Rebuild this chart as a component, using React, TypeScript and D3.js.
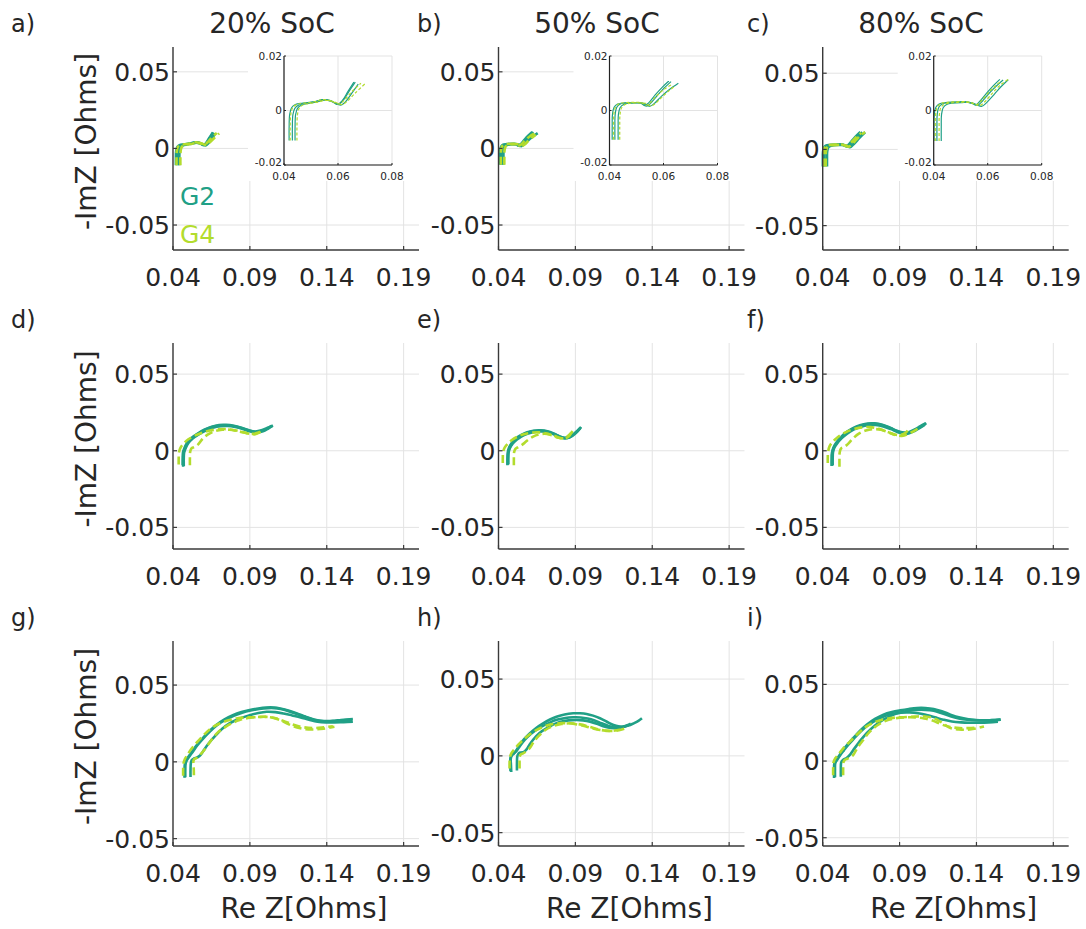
import React from 'react';
import * as d3 from 'd3';

type Pt = [number, number];

// ---------- DATA ----------
const groupNames = ['G2', 'G4'];
const socTitles = ['20% SoC', '50% SoC', '80% SoC'];
const panelLetters = ['a)', 'b)', 'c)', 'd)', 'e)', 'f)', 'g)', 'h)', 'i)'];
const xTicks = [0.04, 0.09, 0.14, 0.19];
const xTickLabels = ['0.04', '0.09', '0.14', '0.19'];
const yTicks = [-0.05, 0, 0.05];
const yTickLabels = ['-0.05', '0', '0.05'];
const insetXTicks = [0.04, 0.06, 0.08];
const insetXTickLabels = ['0.04', '0.06', '0.08'];
const insetYTicks = [-0.02, 0, 0.02];
const insetYTickLabels = ['-0.02', '0', '0.02'];
const xDomain: Pt = [0.04, 0.2];
const insetXDomain: Pt = [0.04, 0.08];
const insetYDomain: Pt = [-0.02, 0.02];
const yDomains: Pt[] = [
  [-0.0663, 0.0662], [-0.0663, 0.0662], [-0.066, 0.0672],
  [-0.0641, 0.0703], [-0.0641, 0.0703], [-0.0641, 0.0703],
  [-0.0548, 0.0787], [-0.0587, 0.0748], [-0.0554, 0.0783],
];

// Panel a (20% SoC, row 1)
const aG2: Pt[][] = [
  [[0.0419,-0.0110],[0.0419,-0.0060],[0.0421,-0.0015],[0.0428,0.0010],[0.0442,0.0022],[0.0470,0.0027],[0.0510,0.0032],[0.0545,0.0040],[0.0572,0.0036],[0.0598,0.0022],[0.0615,0.0035],[0.0637,0.0070],[0.0659,0.0104]],
  [[0.0431,-0.0110],[0.0431,-0.0060],[0.0433,-0.0015],[0.0440,0.0008],[0.0455,0.0020],[0.0480,0.0026],[0.0515,0.0032],[0.0548,0.0040],[0.0575,0.0035],[0.0602,0.0022],[0.0620,0.0038],[0.0642,0.0072],[0.0664,0.0104]],
  [[0.0441,-0.0110],[0.0441,-0.0060],[0.0443,-0.0015],[0.0450,0.0008],[0.0465,0.0020],[0.0490,0.0026],[0.0520,0.0031],[0.0550,0.0038],[0.0580,0.0032],[0.0610,0.0020],[0.0628,0.0032],[0.0650,0.0062],[0.0675,0.0097]],
];
const aG4: Pt[][] = [
  [[0.0423,-0.0110],[0.0423,-0.0060],[0.0425,-0.0015],[0.0432,0.0010],[0.0447,0.0022],[0.0475,0.0027],[0.0512,0.0032],[0.0546,0.0040],[0.0574,0.0035],[0.0603,0.0024],[0.0625,0.0040],[0.0652,0.0070],[0.0685,0.0100]],
  [[0.0448,-0.0110],[0.0448,-0.0060],[0.0450,-0.0015],[0.0456,0.0008],[0.0470,0.0020],[0.0495,0.0026],[0.0525,0.0031],[0.0553,0.0037],[0.0583,0.0033],[0.0615,0.0022],[0.0635,0.0035],[0.0665,0.0065],[0.0700,0.0098]],
];
// Panel b (50% SoC, row 1)
const bG2: Pt[][] = [
  [[0.0410,-0.0107],[0.0410,-0.0060],[0.0411,-0.0015],[0.0417,0.0012],[0.0430,0.0024],[0.0455,0.0028],[0.0490,0.0029],[0.0515,0.0028],[0.0530,0.0018],[0.0545,0.0028],[0.0570,0.0058],[0.0595,0.0085],[0.0620,0.0108]],
  [[0.0420,-0.0107],[0.0420,-0.0060],[0.0421,-0.0015],[0.0427,0.0012],[0.0440,0.0024],[0.0465,0.0028],[0.0495,0.0029],[0.0520,0.0027],[0.0537,0.0016],[0.0552,0.0026],[0.0577,0.0055],[0.0602,0.0082],[0.0628,0.0106]],
  [[0.0432,-0.0107],[0.0432,-0.0060],[0.0433,-0.0015],[0.0439,0.0010],[0.0452,0.0022],[0.0475,0.0027],[0.0505,0.0028],[0.0530,0.0025],[0.0548,0.0015],[0.0565,0.0025],[0.0592,0.0052],[0.0622,0.0077],[0.0655,0.0100]],
];
const bG4: Pt[][] = [
  [[0.0415,-0.0107],[0.0415,-0.0060],[0.0416,-0.0015],[0.0422,0.0012],[0.0435,0.0025],[0.0460,0.0029],[0.0492,0.0030],[0.0518,0.0029],[0.0535,0.0019],[0.0550,0.0028],[0.0575,0.0055],[0.0603,0.0078],[0.0632,0.0096]],
  [[0.0438,-0.0107],[0.0438,-0.0060],[0.0439,-0.0015],[0.0445,0.0010],[0.0458,0.0022],[0.0480,0.0027],[0.0508,0.0028],[0.0535,0.0026],[0.0553,0.0017],[0.0570,0.0026],[0.0595,0.0050],[0.0620,0.0072],[0.0642,0.0090]],
];
// Panel c (80% SoC, row 1)
const cG2: Pt[][] = [
  [[0.0401,-0.0112],[0.0401,-0.0060],[0.0402,-0.0015],[0.0408,0.0012],[0.0420,0.0024],[0.0445,0.0029],[0.0480,0.0031],[0.0520,0.0032],[0.0540,0.0027],[0.0555,0.0020],[0.0572,0.0035],[0.0600,0.0068],[0.0622,0.0092],[0.0645,0.0114]],
  [[0.0412,-0.0112],[0.0412,-0.0060],[0.0413,-0.0015],[0.0419,0.0012],[0.0432,0.0024],[0.0455,0.0029],[0.0490,0.0031],[0.0525,0.0031],[0.0546,0.0026],[0.0562,0.0019],[0.0580,0.0034],[0.0608,0.0066],[0.0632,0.0090],[0.0657,0.0112]],
  [[0.0428,-0.0112],[0.0428,-0.0060],[0.0429,-0.0015],[0.0435,0.0010],[0.0448,0.0022],[0.0470,0.0027],[0.0505,0.0029],[0.0535,0.0029],[0.0558,0.0022],[0.0577,0.0015],[0.0597,0.0030],[0.0625,0.0060],[0.0650,0.0088],[0.0676,0.0113]],
];
const cG4: Pt[][] = [
  [[0.0406,-0.0112],[0.0406,-0.0060],[0.0407,-0.0015],[0.0413,0.0012],[0.0426,0.0025],[0.0450,0.0030],[0.0485,0.0032],[0.0522,0.0032],[0.0543,0.0027],[0.0559,0.0021],[0.0577,0.0036],[0.0605,0.0068],[0.0628,0.0090],[0.0650,0.0108]],
  [[0.0420,-0.0112],[0.0420,-0.0060],[0.0421,-0.0015],[0.0427,0.0011],[0.0440,0.0023],[0.0463,0.0028],[0.0497,0.0030],[0.0530,0.0030],[0.0552,0.0024],[0.0570,0.0018],[0.0590,0.0033],[0.0618,0.0064],[0.0645,0.0092],[0.0676,0.0114]],
];
// Panel d (20% SoC, row 2)
const dG2: Pt[][] = [
  [[0.0466,-0.0105],[0.0466,-0.0060],[0.0468,-0.0020],[0.0475,0.0008],[0.0495,0.0050],[0.0525,0.0082],[0.0560,0.0108],[0.0605,0.0135],[0.0655,0.0155],[0.0705,0.0165],[0.0750,0.0166],[0.0800,0.0160],[0.0850,0.0147],[0.0900,0.0130],[0.0940,0.0122],[0.0980,0.0130],[0.1020,0.0148],[0.1050,0.0165]],
  [[0.0470,-0.0100],[0.0470,-0.0055],[0.0472,-0.0015],[0.0480,0.0012],[0.0500,0.0050],[0.0530,0.0082],[0.0565,0.0105],[0.0610,0.0130],[0.0660,0.0150],[0.0710,0.0160],[0.0755,0.0162],[0.0805,0.0155],[0.0855,0.0142],[0.0905,0.0125],[0.0945,0.0118],[0.0985,0.0127],[0.1020,0.0145],[0.1045,0.0160]],
  [[0.0463,-0.0095],[0.0463,-0.0050],[0.0465,-0.0012],[0.0472,0.0012],[0.0492,0.0052],[0.0522,0.0085],[0.0558,0.0110],[0.0603,0.0137],[0.0652,0.0157],[0.0700,0.0168],[0.0745,0.0169],[0.0795,0.0163],[0.0845,0.0150],[0.0895,0.0133],[0.0935,0.0126],[0.0975,0.0133],[0.1015,0.0150],[0.1040,0.0163]],
];
const dG4: Pt[][] = [
  [[0.0437,-0.0090],[0.0437,-0.0050],[0.0439,-0.0010],[0.0450,0.0022],[0.0470,0.0048],[0.0500,0.0075],[0.0540,0.0098],[0.0590,0.0118],[0.0640,0.0132],[0.0700,0.0140],[0.0750,0.0141],[0.0800,0.0134],[0.0850,0.0123],[0.0900,0.0110],[0.0935,0.0108],[0.0965,0.0122],[0.0990,0.0142]],
  [[0.0510,-0.0095],[0.0510,-0.0050],[0.0512,-0.0005],[0.0520,0.0015],[0.0540,0.0025],[0.0562,0.0040],[0.0590,0.0075],[0.0625,0.0105],[0.0670,0.0127],[0.0720,0.0137],[0.0770,0.0137],[0.0820,0.0128],[0.0870,0.0117],[0.0915,0.0110],[0.0950,0.0117],[0.0985,0.0135]],
];
// Panel e (50% SoC, row 2)
const eG2: Pt[][] = [
  [[0.0461,-0.0091],[0.0461,-0.0050],[0.0463,-0.0012],[0.0470,0.0015],[0.0490,0.0050],[0.0515,0.0075],[0.0545,0.0097],[0.0585,0.0116],[0.0630,0.0128],[0.0678,0.0130],[0.0720,0.0124],[0.0760,0.0110],[0.0800,0.0092],[0.0830,0.0083],[0.0862,0.0088],[0.0900,0.0115],[0.0938,0.0155]],
  [[0.0464,-0.0088],[0.0464,-0.0048],[0.0466,-0.0010],[0.0473,0.0014],[0.0493,0.0048],[0.0518,0.0072],[0.0548,0.0093],[0.0588,0.0111],[0.0633,0.0123],[0.0680,0.0126],[0.0722,0.0120],[0.0762,0.0106],[0.0802,0.0089],[0.0832,0.0081],[0.0864,0.0087],[0.0900,0.0112],[0.0932,0.0148]],
  [[0.0458,-0.0094],[0.0458,-0.0052],[0.0460,-0.0014],[0.0467,0.0016],[0.0487,0.0052],[0.0512,0.0078],[0.0542,0.0100],[0.0582,0.0119],[0.0627,0.0131],[0.0675,0.0133],[0.0718,0.0127],[0.0758,0.0113],[0.0798,0.0094],[0.0828,0.0085],[0.0860,0.0090],[0.0898,0.0117],[0.0935,0.0152]],
];
const eG4: Pt[][] = [
  [[0.0428,-0.0080],[0.0428,-0.0045],[0.0430,-0.0008],[0.0440,0.0020],[0.0460,0.0045],[0.0485,0.0068],[0.0520,0.0090],[0.0565,0.0108],[0.0615,0.0118],[0.0665,0.0120],[0.0710,0.0113],[0.0750,0.0100],[0.0790,0.0085],[0.0825,0.0082],[0.0855,0.0100],[0.0880,0.0125],[0.0895,0.0145]],
  [[0.0500,-0.0095],[0.0500,-0.0050],[0.0502,-0.0008],[0.0510,0.0012],[0.0530,0.0025],[0.0555,0.0040],[0.0585,0.0065],[0.0625,0.0092],[0.0670,0.0108],[0.0715,0.0110],[0.0755,0.0100],[0.0795,0.0085],[0.0830,0.0080],[0.0858,0.0095],[0.0875,0.0120]],
];
// Panel f (80% SoC, row 2)
const fG2: Pt[][] = [
  [[0.0461,-0.0098],[0.0461,-0.0055],[0.0463,-0.0012],[0.0472,0.0020],[0.0490,0.0050],[0.0520,0.0085],[0.0555,0.0117],[0.0600,0.0145],[0.0645,0.0164],[0.0695,0.0175],[0.0740,0.0176],[0.0790,0.0167],[0.0840,0.0148],[0.0885,0.0127],[0.0920,0.0117],[0.0955,0.0116],[0.1000,0.0135],[0.1040,0.0158],[0.1074,0.0180]],
  [[0.0465,-0.0095],[0.0465,-0.0052],[0.0467,-0.0010],[0.0476,0.0020],[0.0494,0.0048],[0.0524,0.0082],[0.0559,0.0112],[0.0604,0.0139],[0.0649,0.0157],[0.0699,0.0167],[0.0744,0.0168],[0.0794,0.0159],[0.0844,0.0141],[0.0889,0.0121],[0.0924,0.0112],[0.0959,0.0113],[0.1000,0.0130],[0.1035,0.0150],[0.1065,0.0170]],
  [[0.0458,-0.0100],[0.0458,-0.0058],[0.0460,-0.0015],[0.0469,0.0018],[0.0487,0.0050],[0.0517,0.0087],[0.0552,0.0120],[0.0597,0.0148],[0.0642,0.0167],[0.0692,0.0178],[0.0737,0.0179],[0.0787,0.0170],[0.0837,0.0151],[0.0882,0.0130],[0.0917,0.0120],[0.0952,0.0119],[0.0995,0.0137],[0.1035,0.0160],[0.1068,0.0178]],
];
const fG4: Pt[][] = [
  [[0.0433,-0.0080],[0.0433,-0.0045],[0.0435,-0.0008],[0.0445,0.0030],[0.0465,0.0058],[0.0490,0.0082],[0.0525,0.0108],[0.0565,0.0128],[0.0610,0.0144],[0.0660,0.0153],[0.0710,0.0154],[0.0760,0.0145],[0.0810,0.0127],[0.0860,0.0108],[0.0900,0.0102],[0.0935,0.0115],[0.0960,0.0140]],
  [[0.0509,-0.0105],[0.0509,-0.0055],[0.0511,-0.0008],[0.0520,0.0015],[0.0540,0.0025],[0.0565,0.0045],[0.0595,0.0078],[0.0635,0.0112],[0.0680,0.0132],[0.0730,0.0141],[0.0780,0.0137],[0.0830,0.0120],[0.0875,0.0102],[0.0915,0.0097],[0.0955,0.0108],[0.0995,0.0130],[0.1030,0.0150]],
];
// Panel g (20% SoC, row 3)
const gG2: Pt[][] = [
  [[0.0475,-0.0104],[0.0475,-0.0060],[0.0477,-0.0015],[0.0486,0.0011],[0.0505,0.0040],[0.0525,0.0068],[0.0555,0.0110],[0.0591,0.0152],[0.0635,0.0198],[0.0679,0.0239],[0.0735,0.0277],[0.0789,0.0304],[0.0845,0.0324],[0.0899,0.0337],[0.0955,0.0348],[0.1009,0.0354],[0.1055,0.0354],[0.1097,0.0348],[0.1150,0.0334],[0.1207,0.0315],[0.1260,0.0295],[0.1317,0.0276],[0.1360,0.0267],[0.1405,0.0265],[0.1450,0.0268],[0.1493,0.0272],[0.1570,0.0278]],
  [[0.0480,-0.0100],[0.0480,-0.0055],[0.0482,-0.0012],[0.0491,0.0012],[0.0510,0.0040],[0.0530,0.0068],[0.0560,0.0110],[0.0596,0.0152],[0.0640,0.0197],[0.0684,0.0237],[0.0740,0.0273],[0.0795,0.0300],[0.0850,0.0320],[0.0905,0.0334],[0.0960,0.0344],[0.1015,0.0350],[0.1060,0.0350],[0.1100,0.0344],[0.1152,0.0330],[0.1210,0.0310],[0.1265,0.0290],[0.1320,0.0273],[0.1365,0.0265],[0.1410,0.0263],[0.1460,0.0266],[0.1510,0.0270],[0.1565,0.0274]],
  [[0.0514,-0.0098],[0.0514,-0.0055],[0.0516,-0.0010],[0.0522,0.0012],[0.0536,0.0022],[0.0560,0.0030],[0.0580,0.0045],[0.0600,0.0075],[0.0630,0.0118],[0.0679,0.0174],[0.0720,0.0215],[0.0767,0.0250],[0.0830,0.0281],[0.0899,0.0304],[0.0955,0.0318],[0.1009,0.0326],[0.1065,0.0324],[0.1119,0.0315],[0.1175,0.0302],[0.1230,0.0289],[0.1285,0.0274],[0.1340,0.0261],[0.1395,0.0256],[0.1450,0.0257],[0.1510,0.0259],[0.1570,0.0261]],
];
const gG4: Pt[][] = [
  [[0.0466,-0.0090],[0.0466,-0.0050],[0.0468,-0.0010],[0.0478,0.0020],[0.0492,0.0043],[0.0520,0.0085],[0.0558,0.0130],[0.0600,0.0175],[0.0646,0.0217],[0.0700,0.0248],[0.0767,0.0272],[0.0820,0.0284],[0.0877,0.0289],[0.0940,0.0291],[0.1009,0.0293],[0.1055,0.0286],[0.1097,0.0272],[0.1150,0.0246],[0.1207,0.0224],[0.1260,0.0213],[0.1317,0.0211],[0.1380,0.0216],[0.1450,0.0228]],
  [[0.0536,-0.0087],[0.0535,-0.0045],[0.0533,0.0005],[0.0540,0.0020],[0.0558,0.0028],[0.0580,0.0050],[0.0602,0.0076],[0.0630,0.0115],[0.0657,0.0152],[0.0690,0.0190],[0.0723,0.0215],[0.0780,0.0250],[0.0833,0.0272],[0.0900,0.0287],[0.0965,0.0293],[0.1020,0.0292],[0.1075,0.0283],[0.1130,0.0262],[0.1190,0.0240],[0.1250,0.0225],[0.1310,0.0220],[0.1380,0.0225],[0.1440,0.0232]],
];
// Panel h (50% SoC, row 3)
const hG2: Pt[][] = [
  [[0.0483,-0.0105],[0.0481,-0.0060],[0.0480,-0.0017],[0.0488,0.0005],[0.0500,0.0015],[0.0515,0.0035],[0.0537,0.0070],[0.0568,0.0110],[0.0603,0.0146],[0.0645,0.0182],[0.0690,0.0212],[0.0735,0.0237],[0.0777,0.0255],[0.0830,0.0270],[0.0886,0.0277],[0.0930,0.0277],[0.0973,0.0273],[0.1015,0.0262],[0.1060,0.0245],[0.1105,0.0222],[0.1148,0.0201],[0.1180,0.0192],[0.1213,0.0190],[0.1245,0.0197],[0.1279,0.0212],[0.1310,0.0228],[0.1333,0.0245]],
  [[0.0478,-0.0100],[0.0477,-0.0055],[0.0478,-0.0012],[0.0486,0.0005],[0.0498,0.0015],[0.0515,0.0030],[0.0540,0.0065],[0.0572,0.0105],[0.0608,0.0140],[0.0650,0.0172],[0.0695,0.0198],[0.0740,0.0220],[0.0785,0.0236],[0.0835,0.0247],[0.0886,0.0251],[0.0935,0.0250],[0.0980,0.0243],[0.1025,0.0230],[0.1070,0.0212],[0.1115,0.0195],[0.1155,0.0186],[0.1190,0.0186],[0.1225,0.0195],[0.1260,0.0210]],
  [[0.0520,-0.0095],[0.0520,-0.0050],[0.0522,-0.0005],[0.0530,0.0015],[0.0545,0.0022],[0.0565,0.0026],[0.0581,0.0040],[0.0600,0.0070],[0.0625,0.0105],[0.0665,0.0148],[0.0712,0.0179],[0.0755,0.0203],[0.0799,0.0220],[0.0855,0.0231],[0.0908,0.0234],[0.0950,0.0231],[0.0995,0.0223],[0.1045,0.0207],[0.1093,0.0190],[0.1130,0.0182],[0.1170,0.0179],[0.1210,0.0188],[0.1246,0.0201]],
];
const hG4: Pt[][] = [
  [[0.0472,-0.0083],[0.0472,-0.0045],[0.0474,-0.0010],[0.0485,0.0020],[0.0505,0.0045],[0.0537,0.0081],[0.0590,0.0130],[0.0646,0.0168],[0.0700,0.0192],[0.0755,0.0207],[0.0810,0.0213],[0.0864,0.0212],[0.0920,0.0203],[0.0973,0.0190],[0.1015,0.0178],[0.1060,0.0168],[0.1105,0.0163],[0.1148,0.0162],[0.1190,0.0168],[0.1224,0.0179]],
  [[0.0537,-0.0083],[0.0537,-0.0045],[0.0538,-0.0005],[0.0548,0.0012],[0.0560,0.0016],[0.0580,0.0030],[0.0603,0.0050],[0.0625,0.0085],[0.0660,0.0128],[0.0700,0.0165],[0.0750,0.0192],[0.0810,0.0207],[0.0870,0.0212],[0.0930,0.0205],[0.0990,0.0190],[0.1040,0.0175],[0.1090,0.0165],[0.1140,0.0163],[0.1190,0.0170]],
];
// Panel i (80% SoC, row 3)
const iG2: Pt[][] = [
  [[0.0474,-0.0110],[0.0474,-0.0060],[0.0476,-0.0015],[0.0489,0.0007],[0.0510,0.0040],[0.0533,0.0072],[0.0565,0.0112],[0.0598,0.0149],[0.0640,0.0195],[0.0686,0.0237],[0.0740,0.0275],[0.0795,0.0303],[0.0850,0.0320],[0.0904,0.0331],[0.0960,0.0340],[0.1013,0.0346],[0.1068,0.0346],[0.1122,0.0340],[0.1175,0.0325],[0.1231,0.0303],[0.1285,0.0285],[0.1340,0.0274],[0.1395,0.0267],[0.1449,0.0265],[0.1500,0.0267],[0.1554,0.0270]],
  [[0.0480,-0.0105],[0.0480,-0.0058],[0.0482,-0.0013],[0.0494,0.0008],[0.0515,0.0040],[0.0538,0.0070],[0.0570,0.0110],[0.0603,0.0146],[0.0645,0.0190],[0.0690,0.0230],[0.0745,0.0266],[0.0800,0.0292],[0.0855,0.0308],[0.0910,0.0316],[0.0965,0.0317],[0.1020,0.0312],[0.1075,0.0300],[0.1130,0.0285],[0.1185,0.0270],[0.1240,0.0258],[0.1300,0.0252],[0.1360,0.0250],[0.1420,0.0250],[0.1480,0.0252],[0.1540,0.0256]],
  [[0.0518,-0.0103],[0.0518,-0.0055],[0.0520,-0.0010],[0.0529,0.0005],[0.0540,0.0013],[0.0555,0.0020],[0.0575,0.0038],[0.0599,0.0072],[0.0640,0.0127],[0.0686,0.0182],[0.0740,0.0232],[0.0795,0.0270],[0.0850,0.0298],[0.0904,0.0316],[0.0960,0.0328],[0.1013,0.0334],[0.1068,0.0334],[0.1122,0.0328],[0.1175,0.0312],[0.1231,0.0292],[0.1285,0.0278],[0.1340,0.0270],[0.1400,0.0266],[0.1460,0.0266],[0.1520,0.0268],[0.1559,0.0270]],
];
const iG4: Pt[][] = [
  [[0.0468,-0.0092],[0.0468,-0.0050],[0.0470,-0.0010],[0.0482,0.0018],[0.0500,0.0039],[0.0535,0.0085],[0.0577,0.0127],[0.0630,0.0180],[0.0686,0.0226],[0.0750,0.0258],[0.0817,0.0276],[0.0880,0.0284],[0.0948,0.0287],[0.1000,0.0290],[0.1057,0.0292],[0.1100,0.0285],[0.1144,0.0270],[0.1190,0.0240],[0.1231,0.0215],[0.1285,0.0206],[0.1340,0.0204],[0.1395,0.0212],[0.1449,0.0226]],
  [[0.0533,-0.0092],[0.0533,-0.0050],[0.0535,-0.0008],[0.0545,0.0008],[0.0560,0.0015],[0.0580,0.0025],[0.0599,0.0040],[0.0625,0.0085],[0.0664,0.0138],[0.0705,0.0190],[0.0751,0.0230],[0.0810,0.0262],[0.0870,0.0278],[0.0935,0.0285],[0.1000,0.0285],[0.1060,0.0278],[0.1120,0.0262],[0.1175,0.0238],[0.1230,0.0222],[0.1290,0.0215],[0.1350,0.0215],[0.1410,0.0220]],
];

const panelG2 = [aG2, bG2, cG2, dG2, eG2, fG2, gG2, hG2, iG2];
const panelG4 = [aG4, bG4, cG4, dG4, eG4, fG4, gG4, hG4, iG4];

// ---------- STYLE / LAYOUT ----------
const W = 1086, H = 929;
const FONT = 'DejaVu Sans, Verdana, sans-serif';
const G2_COLOR = '#20a086';
const G4_COLOR = '#b3dc2d';
const TEXT = '#262626';
const GRID = '#e3e3e3';
const AXIS = '#3a3a3a';
const colLeft = [173, 498.5, 822.7];
const plotW = 246;
const rowTop = [47, 343, 641];
const rowBottom = [250, 549, 846];

function Panel({ idx }: { idx: number }) {
  const r = Math.floor(idx / 3), c = idx % 3;
  const x0 = colLeft[c], x1 = x0 + plotW;
  const y0 = rowTop[r], y1 = rowBottom[r];
  const xs = d3.scaleLinear().domain(xDomain).range([x0, x1]);
  const ys = d3.scaleLinear().domain(yDomains[idx]).range([y1, y0]);
  const line = d3.line<Pt>().x(d => xs(d[0])).y(d => ys(d[1])).curve(d3.curveCatmullRom.alpha(0.5));

  const showInset = r === 0;
  const ix0 = x0 + 111, iy0 = 56, iw = 108, ih = 109;
  const ixs = d3.scaleLinear().domain(insetXDomain).range([ix0, ix0 + iw]);
  const iys = d3.scaleLinear().domain(insetYDomain).range([iy0 + ih, iy0]);
  const iline = d3.line<Pt>().x(d => ixs(d[0])).y(d => iys(d[1])).curve(d3.curveCatmullRom.alpha(0.5));
  const clipId = `inset-clip-${idx}`;

  return (
    <g>
      {/* grid */}
      {xTicks.map(t => (
        <line key={'gx' + t} x1={xs(t)} x2={xs(t)} y1={y0} y2={y1} stroke={GRID} strokeWidth={1} />
      ))}
      {yTicks.map(t => (
        <line key={'gy' + t} x1={x0} x2={x1} y1={ys(t)} y2={ys(t)} stroke={GRID} strokeWidth={1} />
      ))}
      {/* curves */}
      {panelG2[idx].map((pts, k) => (
        <path key={'g2' + k} d={line(pts) || ''} fill="none" stroke={G2_COLOR} strokeWidth={2.6} strokeLinejoin="round" />
      ))}
      {panelG4[idx].map((pts, k) => (
        <path key={'g4' + k} d={line(pts) || ''} fill="none" stroke={G4_COLOR} strokeWidth={2.6} strokeDasharray="8,4" />
      ))}
      {/* axes */}
      <line x1={x0} x2={x0} y1={y0} y2={y1} stroke={AXIS} strokeWidth={1.4} />
      <line x1={x0} x2={x1} y1={y1} y2={y1} stroke={AXIS} strokeWidth={1.4} />
      {xTicks.map((t, k) => (
        <g key={'tx' + t}>
          <line x1={xs(t)} x2={xs(t)} y1={y1} y2={y1 - 4} stroke={AXIS} strokeWidth={1.2} />
          <text x={xs(t)} y={y1 + 36} textAnchor="middle" fontSize={25} fill={TEXT} fontFamily={FONT}>{xTickLabels[k]}</text>
        </g>
      ))}
      {yTicks.map((t, k) => (
        <g key={'ty' + t}>
          <line x1={x0} x2={x0 + 4} y1={ys(t)} y2={ys(t)} stroke={AXIS} strokeWidth={1.2} />
          <text x={x0 - 3} y={ys(t)} dy="0.36em" textAnchor="end" fontSize={25} fill={TEXT} fontFamily={FONT}>{yTickLabels[k]}</text>
        </g>
      ))}
      {/* inset */}
      {showInset && (
        <g>
          <rect x={ix0 - 36} y={y0} width={x1 + 2 - (ix0 - 36)} height={iy0 + ih + 16 - y0} fill="#ffffff" />
          <clipPath id={clipId}><rect x={ix0} y={iy0} width={iw} height={ih} /></clipPath>
          {insetXTicks.map(t => (
            <line key={'igx' + t} x1={ixs(t)} x2={ixs(t)} y1={iy0} y2={iy0 + ih} stroke={GRID} strokeWidth={1} />
          ))}
          {insetYTicks.map(t => (
            <line key={'igy' + t} x1={ix0} x2={ix0 + iw} y1={iys(t)} y2={iys(t)} stroke={GRID} strokeWidth={1} />
          ))}
          <g clipPath={`url(#${clipId})`}>
            {panelG2[idx].map((pts, k) => (
              <path key={'ig2' + k} d={iline(pts) || ''} fill="none" stroke={G2_COLOR} strokeWidth={1.2} />
            ))}
            {panelG4[idx].map((pts, k) => (
              <path key={'ig4' + k} d={iline(pts) || ''} fill="none" stroke={G4_COLOR} strokeWidth={1.2} strokeDasharray="3,2" />
            ))}
          </g>
          <line x1={ix0} x2={ix0} y1={iy0} y2={iy0 + ih} stroke="#222" strokeWidth={1.2} />
          <line x1={ix0} x2={ix0 + iw} y1={iy0 + ih} y2={iy0 + ih} stroke="#222" strokeWidth={1.2} />
          {insetXTicks.map((t, k) => (
            <g key={'itx' + t}>
              <line x1={ixs(t)} x2={ixs(t)} y1={iy0 + ih} y2={iy0 + ih - 2} stroke="#222" strokeWidth={1} />
              <text x={ixs(t)} y={iy0 + ih + 15} textAnchor="middle" fontSize={10.5} fill={TEXT} fontFamily={FONT}>{insetXTickLabels[k]}</text>
            </g>
          ))}
          {insetYTicks.map((t, k) => (
            <g key={'ity' + t}>
              <line x1={ix0} x2={ix0 + 2} y1={iys(t)} y2={iys(t)} stroke="#222" strokeWidth={1} />
              <text x={ix0 - 2} y={iys(t)} dy={t < 0 ? '0.1em' : '0.36em'} textAnchor="end" fontSize={10.5} fill={TEXT} fontFamily={FONT}>{insetYTickLabels[k]}</text>
            </g>
          ))}
        </g>
      )}
      {/* panel letter */}
      <text x={c === 0 ? 11 : c === 1 ? 417 : 747} y={y0 - 15} fontSize={24} fill={TEXT} fontFamily={FONT}>{panelLetters[idx]}</text>
      {r === 0 && (
        <text x={[272, 597, 921][c]} y={33} textAnchor="middle" fontSize={28} fill={TEXT} fontFamily={FONT}>{socTitles[c]}</text>
      )}
      {c === 0 && (
        <text transform={`translate(96,${(y0 + y1) / 2 - 7}) rotate(-90)`} textAnchor="middle" fontSize={28} fill={TEXT} fontFamily={FONT}>-ImZ [Ohms]</text>
      )}
      {r === 2 && (
        <text x={(x0 + x1) / 2 + 8} y={918} textAnchor="middle" fontSize={28} fill={TEXT} fontFamily={FONT}>Re Z[Ohms]</text>
      )}
      {idx === 0 && (
        <g>
          <text x={180} y={205} fontSize={25} fill={G2_COLOR} fontFamily={FONT}>{groupNames[0]}</text>
          <text x={180} y={243} fontSize={25} fill={G4_COLOR} fontFamily={FONT}>{groupNames[1]}</text>
        </g>
      )}
    </g>
  );
}

export default function App() {
  return (
    <svg width={W} height={H} viewBox={`0 0 ${W} ${H}`} style={{ position: 'absolute', left: 0, top: 0, background: '#fff' }}>
      <rect x={0} y={0} width={W} height={H} fill="#fff" />
      {d3.range(9).map(i => <Panel key={i} idx={i} />)}
    </svg>
  );
}
